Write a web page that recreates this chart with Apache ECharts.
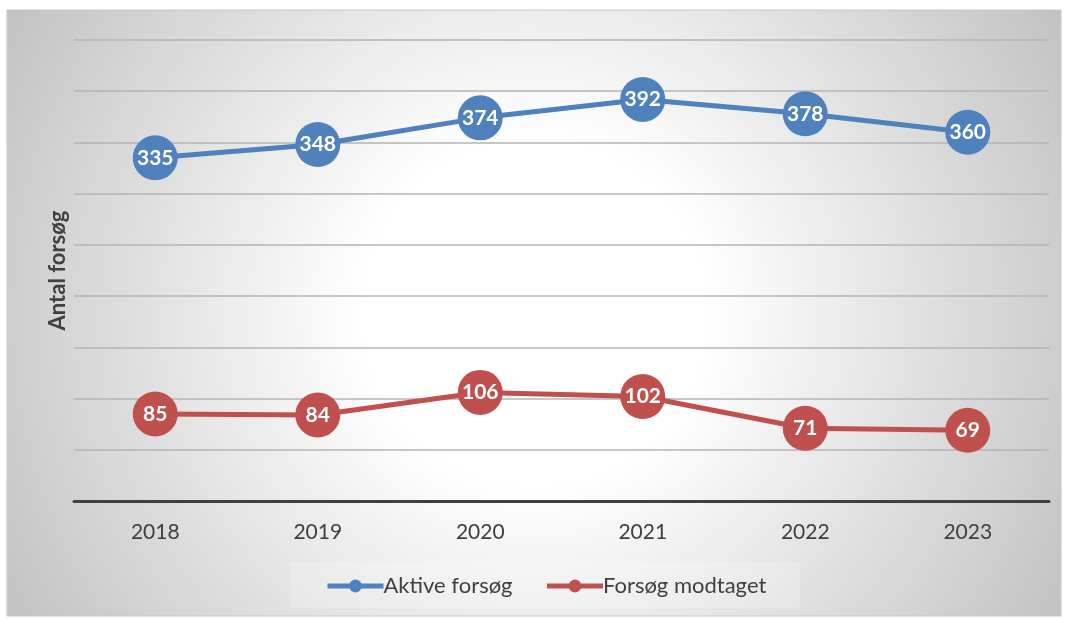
<!DOCTYPE html>
<html>
<head>
<meta charset="utf-8">
<script src="https://cdn.jsdelivr.net/npm/echarts@6/dist/echarts.min.js"></script>
<style>
  html, body { margin: 0; padding: 0; background: #fff; }
  #chart { width: 1068px; height: 619px; }
</style>
</head>
<body>
<div id="chart"></div>
<script>
  // år og værdier
  const years = ['2018', '2019', '2020', '2021', '2022', '2023']
  const aktive = [335, 348, 374, 392, 378, 360]
  const modtaget = [85, 84, 106, 102, 71, 69]

  const chart = echarts.init(document.getElementById('chart'))

  const labelStyle = {
    show: true,
    position: 'inside',
    color: '#fff',
    fontWeight: 'bold',
    fontSize: 21,
    fontFamily: 'Lato'
  }

  chart.setOption({
    backgroundColor: '#fff',
    animation: false,
    graphic: [{
      type: 'rect',
      z: -10,
      shape: { x: 7, y: 10, width: 1054, height: 606 },
      style: {
        fill: {
          type: 'radial', x: 0.5, y: 0.5, r: 1.0,
          colorStops: [
            { offset: 0, color: '#ffffff' },
            { offset: 0.28, color: '#ffffff' },
            { offset: 1, color: '#c2c2c2' }
          ]
        },
        stroke: '#c8c8c8',
        lineWidth: 1
      }
    }, {
      type: 'rect',
      z: -5,
      shape: { x: 290, y: 562, width: 510, height: 46 },
      style: { fill: 'rgba(255,255,255,0.2)' }
    }],
    grid: { left: 74, right: 19, top: 40, bottom: 118 },
    legend: {
      bottom: 17,
      left: 320,
      itemWidth: 56,
      itemHeight: 16,
      itemGap: 32,
      lineStyle: { width: 5 },
      textStyle: { color: '#404040', fontSize: 22, fontFamily: 'Lato', padding: [0, 0, 0, -5] },
      data: ['Aktive forsøg', 'Forsøg modtaget']
    },
    xAxis: {
      type: 'category',
      data: years,
      axisLine: { lineStyle: { color: '#404040', width: 3 } },
      axisTick: { show: false },
      axisLabel: { color: '#404040', fontSize: 21, fontFamily: 'Lato', margin: 21 }
    },
    yAxis: {
      type: 'value',
      min: 0,
      max: 450,
      interval: 50,
      name: 'Antal forsøg',
      nameLocation: 'middle',
      nameGap: 5,
      nameRotate: 90,
      nameTextStyle: { color: '#404040', fontSize: 22, fontWeight: 'bold', fontFamily: 'Lato' },
      axisLabel: { show: false },
      axisLine: { show: false },
      axisTick: { show: false },
      splitLine: { lineStyle: { color: '#b4b4b4', width: 1.5 } }
    },
    series: [{
      name: 'Aktive forsøg',
      type: 'line',
      data: aktive,
      symbol: 'circle',
      symbolSize: 45,
      color: '#4f81bd',
      lineStyle: { width: 5 },
      label: labelStyle
    }, {
      name: 'Forsøg modtaget',
      type: 'line',
      data: modtaget,
      symbol: 'circle',
      symbolSize: 45,
      color: '#c0504d',
      lineStyle: { width: 5 },
      label: labelStyle
    }]
  })
</script>
</body>
</html>
